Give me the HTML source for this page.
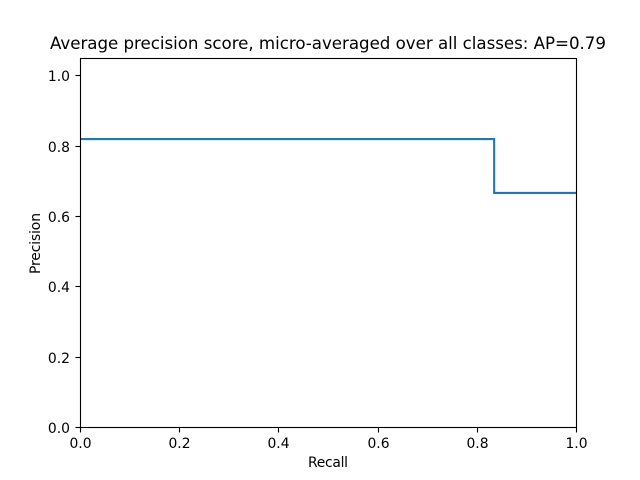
<!DOCTYPE html>
<html>
<head>
<meta charset="utf-8">
<style>
html,body{margin:0;padding:0;background:#fff;}
svg{display:block;}
text{font-family:"DejaVu Sans",sans-serif;fill:#000;}
</style>
</head>
<body>
<svg id="chart" width="640" height="480" viewBox="0 0 640 480" xmlns="http://www.w3.org/2000/svg">
<rect x="0" y="0" width="640" height="480" fill="#fff"/>
<text x="50" y="49" font-size="16.67" textLength="556" lengthAdjust="spacing">Average precision score, micro-averaged over all classes: AP=0.79</text>
<g id="ticks"></g>
<path id="line" fill="none" stroke="#1f77b4" stroke-width="2.08" stroke-linejoin="miter" stroke-linecap="butt"></path>
<rect x="80.5" y="58.5" width="496" height="369" fill="none" stroke="#000" stroke-width="1.11"/>
<text x="308" y="467" font-size="13.89" textLength="40" lengthAdjust="spacing">Recall</text>
<text transform="translate(40,274) rotate(-90)" font-size="13.89" textLength="61" lengthAdjust="spacing">Precision</text>
</svg>
<script>
const recall = [0, 0.834, 0.834, 1];
const precision = [0.82, 0.82, 0.667, 0.667];
const xTicks = [0, 0.2, 0.4, 0.6, 0.8, 1];
const yTicks = [0, 0.2, 0.4, 0.6, 0.8, 1];
const xTickLabels = ['0.0', '0.2', '0.4', '0.6', '0.8', '1.0'];
const yTickLabels = ['0.0', '0.2', '0.4', '0.6', '0.8', '1.0'];

const NS = 'http://www.w3.org/2000/svg';
const xDomain = [0, 1];
const yDomain = [0, 1.05];
function xScale(v) { return 80 + (v - xDomain[0]) / (xDomain[1] - xDomain[0]) * 496; }
function yScale(v) { return 427.2 - (v - yDomain[0]) / (yDomain[1] - yDomain[0]) * 369.6; }

document.getElementById('line').setAttribute('d',
  recall.map((r, i) => (i ? 'L' : 'M') + (xScale(r) + 0.5).toFixed(2) + ' ' + (yScale(precision[i]) + 0.5).toFixed(2)).join(' '));

const tickGroup = document.getElementById('ticks');
xTicks.forEach((t, i) => {
  const x = Math.round(xScale(t)) + 0.5;
  const mark = document.createElementNS(NS, 'line');
  
  
  mark.setAttribute('x1', x);
  mark.setAttribute('x2', x);
  mark.setAttribute('y1', 427.5);
  mark.setAttribute('y2', 432.5);
  mark.setAttribute('stroke', '#000');
  mark.setAttribute('stroke-width', 1.11);
  tickGroup.appendChild(mark);
  const label = document.createElementNS(NS, 'text');
  
  
  label.setAttribute('x', x);
  label.setAttribute('y', 448);
  label.setAttribute('font-size', 13.89);
  label.setAttribute('text-anchor', 'middle');
  label.textContent = xTickLabels[i];
  tickGroup.appendChild(label);
});
yTicks.forEach((t, i) => {
  const y = Math.round(yScale(t));
  const mark = document.createElementNS(NS, 'line');
  
  
  mark.setAttribute('x1', 75.5);
  mark.setAttribute('x2', 80.5);
  mark.setAttribute('y1', y + 0.5);
  mark.setAttribute('y2', y + 0.5);
  mark.setAttribute('stroke', '#000');
  mark.setAttribute('stroke-width', 1.11);
  tickGroup.appendChild(mark);
  const label = document.createElementNS(NS, 'text');
  
  
  label.setAttribute('x', 70);
  label.setAttribute('y', y + 6);
  label.setAttribute('font-size', 13.89);
  label.setAttribute('text-anchor', 'end');
  label.textContent = yTickLabels[i];
  tickGroup.appendChild(label);
});
</script>
</body>
</html>
